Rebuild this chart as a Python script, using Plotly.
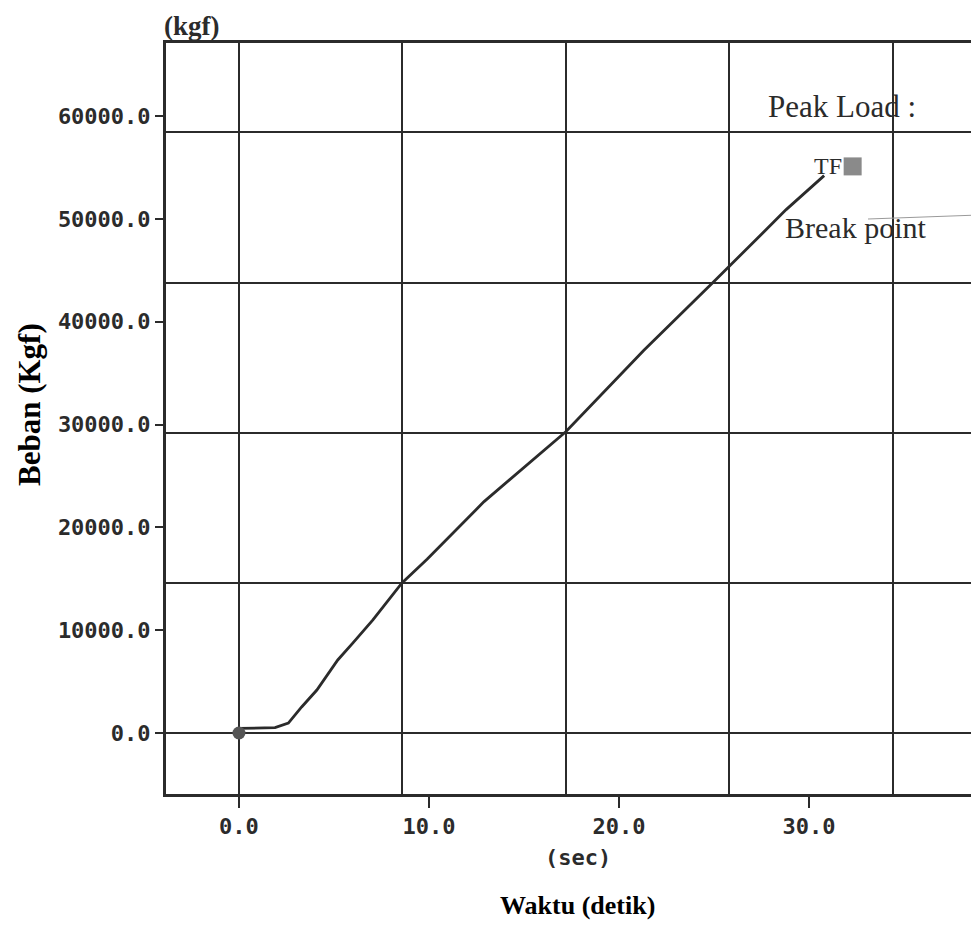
import plotly.graph_objects as go

# courbe beban vs waktu
waktu = [0, 1.0, 1.9, 2.6, 3.3, 4.1, 5.2, 6.0, 7.05, 8.58, 9.9, 12.9, 17.2, 21.3, 25.0, 28.8, 30.6, 30.8]
beban = [450, 470, 520, 970, 2530, 4180, 7100, 8760, 11000, 14600, 16900, 22500, 29300, 37200, 43900, 50900, 53800, 54200]

x_ticks = [0, 10, 20, 30]
x_ticklabels = ["0.0", "10.0", "20.0", "30.0"]
y_ticks = [0, 10000, 20000, 30000, 40000, 50000, 60000]
y_ticklabels = ["0.0", "10000.0", "20000.0", "30000.0", "40000.0", "50000.0", "60000.0"]

x_range = [-3.84, 38.95]
y_range = [-5932, 67100]

# la page a une marge de 8 px autour de la figure
OFF = 8
W, H = 979 - OFF, 946 - OFF
L, R, T, B = 166 - OFF, 0, 43 - OFF, 152

ink = "#2b2b2b"
tick_font = dict(family="DejaVu Sans Mono", size=22, color=ink, weight="bold")

fig = go.Figure()

# trace invisible pour que le sous-graphe principal (grille + cadre) existe
fig.add_trace(go.Scatter(x=[0], y=[0], mode="markers", marker=dict(opacity=0),
                         showlegend=False, hoverinfo="skip"))
# courbe principale
fig.add_trace(go.Scatter(x=waktu, y=beban, mode="lines", line=dict(color=ink, width=2.8),
                         xaxis="x2", yaxis="y2", showlegend=False, hoverinfo="skip"))
# point de départ
fig.add_trace(go.Scatter(x=[0], y=[0], mode="markers", marker=dict(color="#555555", size=13),
                         xaxis="x2", yaxis="y2", showlegend=False, hoverinfo="skip"))
# marqueur TF
fig.add_trace(go.Scatter(x=[32.3], y=[55100], mode="markers",
                         marker=dict(color="#8a8a8a", size=18, symbol="square"),
                         xaxis="x2", yaxis="y2", showlegend=False, hoverinfo="skip"))

fig.update_layout(
    # axes principaux: seulement la grille et le cadre
    xaxis=dict(range=x_range, tick0=0, dtick=8.6, showgrid=True, gridcolor=ink, gridwidth=2.2,
               showticklabels=False, ticks="", zeroline=False, automargin=False,
               showline=True, linecolor=ink, linewidth=3, mirror=True),
    yaxis=dict(range=y_range, tick0=0, dtick=14600, showgrid=True, gridcolor=ink, gridwidth=2.2,
               showticklabels=False, ticks="", zeroline=False, automargin=False,
               showline=True, linecolor=ink, linewidth=3, mirror=False),
    # axes superposés: graduations et étiquettes
    xaxis2=dict(range=x_range, overlaying="x", side="bottom", anchor="y", automargin=False,
                tickmode="array", tickvals=x_ticks, ticktext=x_ticklabels,
                ticks="outside", ticklen=13, tickwidth=2, tickcolor=ink, tickfont=tick_font,
                showgrid=False, zeroline=False, showline=False),
    yaxis2=dict(range=y_range, overlaying="y", side="left", anchor="x", automargin=False,
                tickmode="array", tickvals=y_ticks, ticktext=y_ticklabels,
                ticks="outside", ticklen=10, tickwidth=2, tickcolor=ink, tickfont=tick_font,
                showgrid=False, zeroline=False, showline=False),
    width=W, height=H,
    margin=dict(l=L, r=R, t=T, b=B, pad=0),
    plot_bgcolor="white", paper_bgcolor="white",
)


def px(x):
    return (x - OFF - L) / (W - L - R)


def py(y):
    return (H - B - (y - OFF)) / (H - T - B)


annots = [
    dict(text="(kgf)", x=192, y=26, font=dict(family="Liberation Serif", size=27, color=ink, weight="bold")),
    dict(text="(sec)", x=578, y=857, font=dict(family="DejaVu Sans Mono", size=22, color=ink, weight="bold")),
    dict(text="<b>Waktu (detik)</b>", x=577, y=905, font=dict(family="Liberation Serif", size=26, color="black")),
    dict(text="<b>Beban (Kgf)</b>", x=29, y=405, textangle=-90, font=dict(family="Liberation Serif", size=31, color="black")),
    dict(text="Peak Load :", x=842, y=106, font=dict(family="Liberation Serif", size=31, color=ink)),
    dict(text="Break point", x=855, y=228, font=dict(family="Liberation Serif", size=30, color=ink)),
    dict(text="TF", x=828, y=166, font=dict(family="Liberation Serif", size=24, color=ink)),
]
for a in annots:
    fig.add_annotation(text=a["text"], x=px(a["x"]), y=py(a["y"]), xref="paper", yref="paper",
                       showarrow=False, xanchor="center", yanchor="middle",
                       textangle=a.get("textangle", 0), font=a["font"])

# trait fin à droite de "Break point"
fig.add_shape(type="line", xref="paper", yref="paper", x0=px(868), x1=1, y0=py(219), y1=py(215),
              line=dict(color="#9a9a9a", width=1))

fig.write_html("out.html")
